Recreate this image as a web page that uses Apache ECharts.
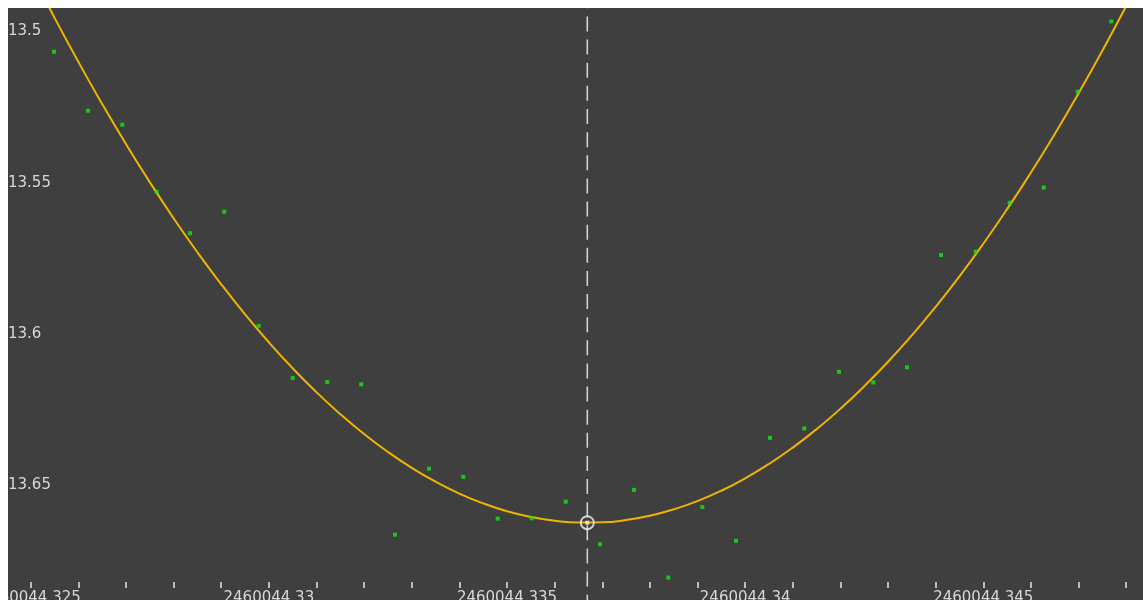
<!DOCTYPE html>
<html>
<head>
<meta charset="utf-8">
<script src="https://cdn.jsdelivr.net/npm/echarts@6/dist/echarts.min.js"></script>
<style>
  html, body { margin: 0; padding: 0; background: #ffffff; overflow: hidden; width: 1143px; height: 600px; }
  #wrap { position: absolute; left: 8px; top: 8px; width: 1135px; height: 592px; overflow: hidden; background: #3f3f3f; }
  #chart { position: absolute; left: 0px; top: -140px; width: 1320px; height: 820px; }
</style>
</head>
<body>
<div id="wrap"><div id="chart"></div></div>
<script>
// Observations (HJD, magnitude)
const obsTime = [
  2460044.3254892, 2460044.3262030, 2460044.3269232, 2460044.3276454, 2460044.3283445,
  2460044.3290647, 2460044.3297869, 2460044.3305007, 2460044.3312272, 2460044.3319410,
  2460044.3326485, 2460044.3333624, 2460044.3340825, 2460044.3348048, 2460044.3355186,
  2460044.3362324, 2460044.3369526, 2460044.3376664, 2460044.3383865, 2460044.3391003,
  2460044.3398079, 2460044.3405217, 2460044.3412419, 2460044.3419704, 2460044.3426905,
  2460044.3433980, 2460044.3441119, 2460044.3448404, 2460044.3455543, 2460044.3462681,
  2460044.3469819, 2460044.3476874
];
const obsMag = [
  13.5075, 13.5270, 13.5316, 13.5538, 13.5675,
  13.5604, 13.5981, 13.6153, 13.6167, 13.6174,
  13.6671, 13.6453, 13.6480, 13.6618, 13.6617,
  13.6562, 13.6703, 13.6523, 13.6813, 13.6580,
  13.6691, 13.6351, 13.6320, 13.6133, 13.6168,
  13.6118, 13.5747, 13.5736, 13.5574, 13.5524,
  13.5207, 13.4975
];
// Fitted curve
const fitTime = [
  2460044.3250, 2460044.3255, 2460044.3260, 2460044.3265, 2460044.3270, 2460044.3275,
  2460044.3280, 2460044.3285, 2460044.3290, 2460044.3295, 2460044.3300, 2460044.3305,
  2460044.3310, 2460044.3315, 2460044.3320, 2460044.3325, 2460044.3330, 2460044.3335,
  2460044.3340, 2460044.3345, 2460044.3350, 2460044.3355, 2460044.3360, 2460044.3365,
  2460044.3370, 2460044.3375, 2460044.3380, 2460044.3385, 2460044.3390, 2460044.3395,
  2460044.3400, 2460044.3405, 2460044.3410, 2460044.3415, 2460044.3420, 2460044.3425,
  2460044.3430, 2460044.3435, 2460044.3440, 2460044.3445, 2460044.3450, 2460044.3455,
  2460044.3460, 2460044.3465, 2460044.3470, 2460044.3475, 2460044.3480, 2460044.3485,
  2460044.3490
];
const fitMag = [
  13.48102, 13.49627, 13.51085, 13.52477, 13.53802, 13.55061,
  13.56253, 13.57378, 13.58436, 13.59428, 13.60353, 13.61211,
  13.62003, 13.62728, 13.63386, 13.63978, 13.64503, 13.64961,
  13.65353, 13.65678, 13.65936, 13.66127, 13.66252, 13.66310,
  13.66302, 13.66227, 13.66085, 13.65876, 13.65601, 13.65259,
  13.64850, 13.64375, 13.63833, 13.63224, 13.62549, 13.61807,
  13.60998, 13.60122, 13.59180, 13.58172, 13.57096, 13.55954,
  13.54745, 13.53469, 13.52127, 13.50718, 13.49243, 13.47701,
  13.46091
];
// Time of minimum
const minTime = [2460044.336686];
const minMag = [13.66315];
// Tick labels
const xTickLabels = ['2460044.325', '2460044.33', '2460044.335', '2460044.34', '2460044.345'];
const yTickLabels = ['13.5', '13.55', '13.6', '13.65'];
const yRange = [13.45, 13.70];
const xRange = [2460044.325, 2460044.350];

const obsData = obsTime.map((t, i) => [t, obsMag[i]]);
const fitData = fitTime.map((t, i) => [t, fitMag[i]]);
const minData = minTime.map((t, i) => [t, minMag[i]]);
const minLineData = [[minTime[0], yRange[0]], [minTime[0], yRange[1]]];

const PX_PER_MILLIDAY = 47.63;
const PX_PER_MAG = 3026;
// page coords: 2460044.325 -> x=30.7 ; 13.45 -> y=-122.3 ; div page origin (8, -132)
const gridLeft = 30.7 - 8;
const gridTop = -122.3 - (-132);
const gridWidth = 25 * PX_PER_MILLIDAY;
const gridHeight = 0.25 * PX_PER_MAG;
const xAxisPageY = 588;
const yAxisPageX = 8;

const chart = echarts.init(document.getElementById('chart'), null, { renderer: 'canvas' });
const labelFont = { fontFamily: 'DejaVu Sans', fontSize: 15, color: '#d8d8d8' };

chart.setOption({
  animation: false,
  backgroundColor: '#3f3f3f',
  grid: {
    left: gridLeft, top: gridTop, width: gridWidth, height: gridHeight,
    containLabel: false, outerBoundsMode: 'none'
  },
  xAxis: {
    type: 'value',
    min: xRange[0],
    max: xRange[1],
    interval: 0.005,
    scale: true,
    offset: -((gridTop + gridHeight - 132) - xAxisPageY),
    axisLine: { show: false },
    axisTick: { show: true, inside: true, length: 6, lineStyle: { color: '#e6e6e6', width: 1.5 } },
    minorTick: { show: true, splitNumber: 5, length: 6, lineStyle: { color: '#e6e6e6', width: 1.5 } },
    splitLine: { show: false },
    axisLabel: Object.assign({
      margin: 3,
      showMinLabel: true, showMaxLabel: true,
      formatter: function (v) {
        const s = String(+(+v).toFixed(3));
        return xTickLabels.indexOf(s) >= 0 ? s : '';
      }
    }, labelFont)
  },
  yAxis: {
    type: 'value',
    inverse: true,
    min: yRange[0],
    max: yRange[1],
    interval: 0.05,
    scale: true,
    offset: -(yAxisPageX - 30.7),
    axisLine: { show: false },
    axisTick: { show: false },
    splitLine: { show: false },
    axisLabel: Object.assign({
      inside: true,
      margin: 0,
      verticalAlign: 'top',
      lineHeight: 5,
      formatter: function (v) {
        const s = String(+(+v).toFixed(2));
        return yTickLabels.indexOf(s) >= 0 ? s : '';
      }
    }, labelFont)
  },
  series: [
    {
      type: 'line',
      data: minLineData,
      showSymbol: false,
      symbol: 'none',
      silent: true,
      lineStyle: { color: '#d2d2d2', width: 1.6, type: [15, 8.13], dashOffset: 0 },
      z: 1
    },
    {
      type: 'line',
      data: fitData,
      smooth: 0.5,
      showSymbol: false,
      symbol: 'none',
      lineStyle: { color: '#f0b400', width: 2 },
      z: 2
    },
    {
      type: 'scatter',
      data: obsData,
      symbol: 'rect',
      symbolSize: 4,
      itemStyle: { color: '#10ea10' },
      z: 3
    },
    {
      type: 'scatter',
      data: minData,
      symbol: 'circle',
      symbolSize: 13,
      itemStyle: { color: 'rgba(0,0,0,0)', borderColor: '#f2f2f2', borderWidth: 2 },
      z: 4
    },
    {
      type: 'scatter',
      data: minData,
      symbol: 'rect',
      symbolSize: 4,
      itemStyle: { color: '#fff6d8' },
      z: 5
    }
  ]
});
</script>
</body>
</html>
